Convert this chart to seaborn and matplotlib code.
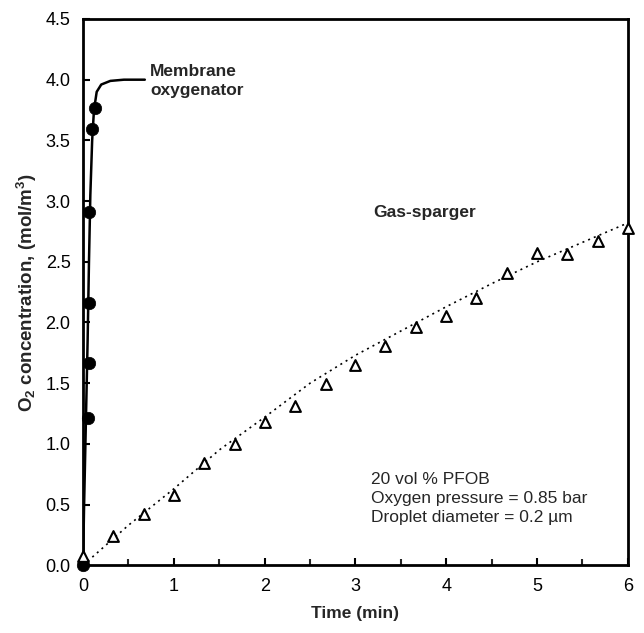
import matplotlib
matplotlib.use("Agg")
import matplotlib.pyplot as plt
import numpy as np
import pandas as pd
import seaborn as sns
from matplotlib import rcParams
from matplotlib.ticker import MultipleLocator, FormatStrFormatter

# membrane oxygenator: measured points and fitted curve
mem_t = [0.0, 0.05, 0.06, 0.06, 0.07, 0.095, 0.13]
mem_c = [0.0, 1.21, 1.67, 2.16, 2.91, 3.59, 3.77]
mem_fit_t = [0.0, 0.01, 0.03, 0.05, 0.065, 0.08, 0.10, 0.12, 0.15, 0.2, 0.3, 0.45, 0.68]
mem_fit_c = [0.0, 0.45, 1.15, 1.85, 2.5, 3.05, 3.5, 3.75, 3.9, 3.96, 3.99, 4.0, 4.0]

# gas sparger: measured points and fitted curve
gas_t = [0.0, 0.33, 0.67, 1.0, 1.33, 1.67, 2.0, 2.33, 2.67, 3.0, 3.33, 3.67,
         4.0, 4.33, 4.67, 5.0, 5.33, 5.67, 6.0]
gas_c = [0.08, 0.24, 0.42, 0.58, 0.84, 1.0, 1.18, 1.31, 1.49, 1.65, 1.81, 1.96,
         2.05, 2.2, 2.41, 2.57, 2.56, 2.67, 2.78]
gas_fit_t = [0.0, 0.5, 1.0, 1.5, 2.0, 2.5, 3.0, 3.5, 4.0, 4.5, 5.0, 5.5, 6.0]
gas_fit_c = [0.0, 0.33, 0.63, 0.95, 1.22, 1.5, 1.73, 1.93, 2.13, 2.32, 2.5, 2.66, 2.82]

sns.set_style("ticks")
rcParams["font.family"] = ["Liberation Sans", "DejaVu Sans"]
rcParams["font.size"] = 12.5
rcParams["mathtext.fontset"] = "custom"
rcParams["mathtext.bf"] = "Liberation Sans:bold"
rcParams["mathtext.rm"] = "Liberation Sans"

fig = plt.figure(figsize=(6.44, 6.33), dpi=100)
ax = fig.add_axes([0.129, 0.107, 0.846, 0.863])

mem_fit = pd.DataFrame({"t": mem_fit_t, "c": mem_fit_c})
gas_fit = pd.DataFrame({"t": gas_fit_t, "c": gas_fit_c})
mem = pd.DataFrame({"t": mem_t, "c": mem_c})
gas = pd.DataFrame({"t": gas_t, "c": gas_c})

sns.lineplot(data=mem_fit, x="t", y="c", ax=ax, color="black", linewidth=1.8,
             sort=False, estimator=None)
sns.lineplot(data=gas_fit, x="t", y="c", ax=ax, color="black", linewidth=1.2,
             linestyle=(0, (1.2, 2.5)), sort=False, estimator=None)
sns.scatterplot(data=mem, x="t", y="c", ax=ax, marker="o", s=80, color="black",
                edgecolor="black", linewidth=0.5, clip_on=False, zorder=5)
sns.scatterplot(data=gas, x="t", y="c", ax=ax, marker="^", s=60, facecolor="white",
                edgecolor="black", linewidth=1.5, clip_on=False, zorder=5)

ax.set_xlim(0, 6)
ax.set_ylim(0, 4.5)
ax.xaxis.set_major_locator(MultipleLocator(1))
ax.xaxis.set_minor_locator(MultipleLocator(0.5))
ax.yaxis.set_major_locator(MultipleLocator(0.5))
ax.yaxis.set_major_formatter(FormatStrFormatter("%.1f"))

for side in ["left", "right", "top", "bottom"]:
    ax.spines[side].set_linewidth(2)
    ax.spines[side].set_color("black")
ax.tick_params(which="major", direction="in", length=5, width=1.5, labelsize=13,
               colors="black", pad=9)
ax.tick_params(which="minor", direction="in", length=4, width=1.5)

ax.set_xlabel("Time (min)", fontweight="bold", fontsize=12.5, labelpad=8)
ax.set_ylabel(r"$\mathbf{O_2}$ concentration, (mol/m$^\mathbf{3}$)",
              fontweight="bold", fontsize=13.5, labelpad=5)

ax.text(0.74, 3.99, "Membrane\noxygenator", fontweight="bold", fontsize=12.5,
        va="center", ha="left", linespacing=1.3)
ax.text(3.2, 2.91, "Gas-sparger", fontweight="bold", fontsize=12.5, va="center")
ax.text(3.17, 0.55, "20 vol % PFOB\nOxygen pressure = 0.85 bar\nDroplet diameter = 0.2 \u00b5m",
        fontsize=12.5, va="center", ha="left", linespacing=1.3)

fig.savefig("out.png", dpi=100)
